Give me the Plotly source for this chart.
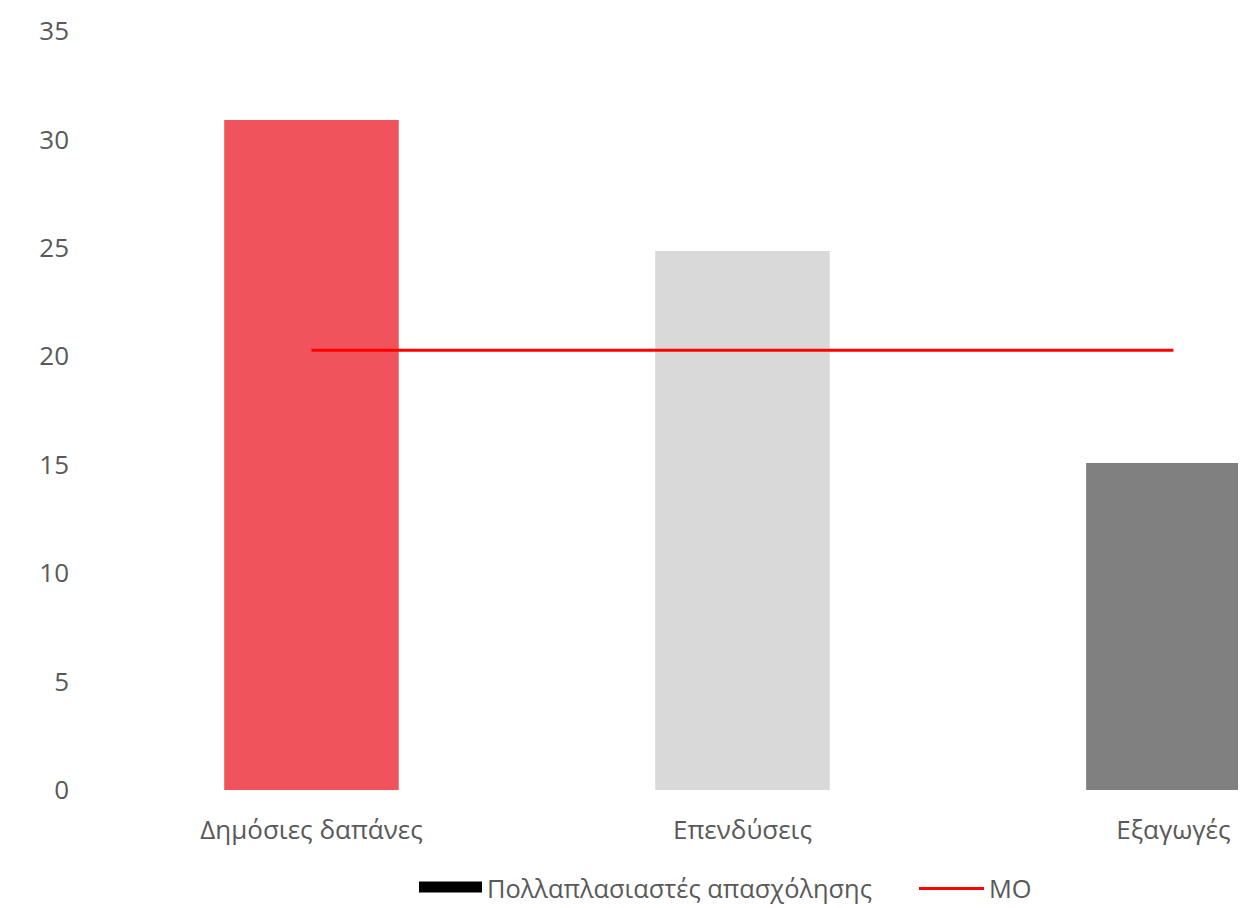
import plotly.graph_objects as go

categories = ["Δημόσιες δαπάνες", "Επενδύσεις", "Εξαγωγές"]
multipliers = [30.9, 24.85, 15.08]
mean_value = [20.28, 20.28, 20.28]
bar_colors = ["#F1535D", "#D9D9D9", "#808080"]
y_ticks = [0, 5, 10, 15, 20, 25, 30, 35]

fig = go.Figure()
fig.add_trace(go.Bar(
    x=categories, y=multipliers, marker_color=bar_colors, width=0.405,
    name="Πολλαπλασιαστές απασχόλησης", showlegend=False,
    legendgroup="m", marker_line_width=0,
))
fig.add_trace(go.Scatter(
    x=[None], y=[None], mode="lines", fill="toself", fillcolor="black",
    line=dict(color="black", width=13),
    name="Πολλαπλασιαστές απασχόλησης", legendgroup="m", legend="legend",
))
fig.add_trace(go.Scatter(
    x=categories, y=mean_value, mode="lines", name="MO", legend="legend2",
    line=dict(color="#FF0000", width=3),
))

legend_font = dict(size=25.4, color="#595959")
fig.update_layout(
    width=1246, height=908,
    margin=dict(l=88, r=0, t=23, b=126, autoexpand=False),
    paper_bgcolor="white", plot_bgcolor="white",
    barmode="overlay",
    font=dict(family="Open Sans", size=26, color="#595959"),
    xaxis=dict(type="category", range=[-0.5, 2.187], showgrid=False,
               showline=False, zeroline=False, ticks="", tickfont=dict(size=26),
               ticklabelstandoff=22),
    yaxis=dict(range=[0, 35], tickvals=y_ticks, showgrid=False,
               showline=False, zeroline=False, ticks="", tickfont=dict(size=26),
               ticklabelstandoff=26),
    legend=dict(orientation="h", x=0.2746, xanchor="left", y=-0.1304,
                yanchor="middle", font=legend_font, itemwidth=63),
    legend2=dict(orientation="h", x=0.7064, xanchor="left", y=-0.1304,
                 yanchor="middle", font=legend_font, itemwidth=65),
)

fig.write_html("out.html")
